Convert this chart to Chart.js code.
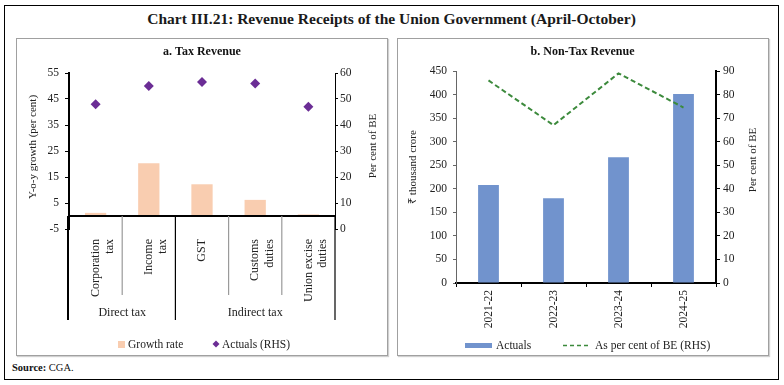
<!DOCTYPE html>
<html>
<head>
<meta charset="utf-8">
<script src="https://cdn.jsdelivr.net/npm/chart.js@4.4.1/dist/chart.umd.min.js"></script>
<style>
  html, body { margin: 0; padding: 0; background: #fff; }
  body { width: 784px; height: 385px; position: relative; overflow: hidden; font-family: "Liberation Serif", serif; color: #111; }
  #frame { position: absolute; left: 4px; top: 5px; width: 775px; height: 375px; border: 1px solid #000; box-sizing: border-box; }
  #mainTitle { position: absolute; left: 4px; width: 775px; top: 10px; text-align: center; font-size: 15.5px; font-weight: bold; color: #1a1a1a; }
  .panel { position: absolute; top: 38px; height: 318px; border: 1.5px solid #a0a0a0; box-sizing: border-box; box-shadow: 1px 1px 1px #d0d0d0; }
  canvas { position: absolute; top: 38px; }
  #source { position: absolute; left: 12px; top: 362px; font-size: 10.5px; }
</style>
</head>
<body>
<div id="frame"></div>
<div id="mainTitle">Chart III.21: Revenue Receipts of the Union Government (April-October)</div>
<div class="panel" style="left:16px;width:372px;"></div>
<div class="panel" style="left:397px;width:372px;"></div>
<canvas id="taxChart" width="372" height="317" style="left:16px;"></canvas>
<canvas id="nonTaxChart" width="371" height="317" style="left:397px;"></canvas>
<div id="source"><b>Source:</b> CGA.</div>

<script>
// a. Tax Revenue
const taxCategories = [["Corporation", "tax"], ["Income", "tax"], ["GST"], ["Customs", "duties"], ["Union excise", "duties"]];
const taxGroups = ["Direct tax", "Indirect tax"];
const taxGroupSize = [2, 3];
const growthRate = [1.2, 20.3, 12.2, 6.2, 0.6];
const actualsPctBE = [48, 55, 56.5, 56, 47];

// b. Non-Tax Revenue
const years = ["2021-22", "2022-23", "2023-24", "2024-25"];
const nonTaxActuals = [208, 180, 267, 401];
const nonTaxPctBE = [86, 67, 89, 74.5];

const FONT = "Liberation Serif";
const txt = "#222";
Chart.defaults.font.family = FONT;
Chart.defaults.color = txt;

function vText(ctx, text, x, y) {
  ctx.save();
  ctx.translate(x, y);
  ctx.rotate(-Math.PI / 2);
  ctx.textAlign = "center";
  ctx.textBaseline = "middle";
  ctx.fillText(text, 0, 0);
  ctx.restore();
}

const taxDecor = {
  id: "taxDecor",
  afterDraw(chart) {
    const { ctx, chartArea: a, scales: { y } } = chart;
    const y0 = y.getPixelForValue(0);
    const n = taxCategories.length;
    const w = (a.right - a.left) / n;
    ctx.save();

    // zero line
    ctx.strokeStyle = "#000";
    ctx.lineWidth = 2;
    ctx.beginPath();
    ctx.moveTo(a.left - 1, y0);
    ctx.lineTo(a.right, y0);
    ctx.stroke();

    // category / group separators below the axis
    const edges = [0];
    taxGroupSize.forEach(k => edges.push(edges[edges.length - 1] + k));
    for (let i = 0; i <= n; i++) {
      const px = a.left + i * w;
      const grp = edges.includes(i);
      ctx.strokeStyle = grp ? "#000" : "#9a9a9a";
      ctx.lineWidth = i === 0 ? 2 : 1.2;
      ctx.beginPath();
      ctx.moveTo(i === 0 ? px - 1 : px, y0);
      ctx.lineTo(i === 0 ? px - 1 : px, a.bottom + (grp ? 91 : 66));
      ctx.stroke();
    }

    // group labels
    ctx.fillStyle = txt;
    ctx.font = "12px " + FONT;
    ctx.textAlign = "center";
    ctx.textBaseline = "middle";
    taxGroups.forEach((g, j) => {
      const mid = a.left + (edges[j] + edges[j + 1]) / 2 * w;
      ctx.fillText(g, mid, a.bottom + 84);
    });

    // axis titles
    ctx.font = "11px " + FONT;
    vText(ctx, "Y-o-y growth (per cent)", 17, 109);
    vText(ctx, "Per cent of BE", 357, 108);

    // legend
    ctx.textAlign = "left";
    ctx.font = "11.5px " + FONT;
    ctx.fillStyle = "#f9cdb0";
    ctx.fillRect(102, 303, 7, 7);
    ctx.fillStyle = txt;
    ctx.fillText("Growth rate", 112, 306.5);
    ctx.fillStyle = "#6b2d95";
    ctx.beginPath();
    ctx.moveTo(200, 302.5); ctx.lineTo(203.5, 306); ctx.lineTo(200, 309.5); ctx.lineTo(196.5, 306);
    ctx.closePath();
    ctx.fill();
    ctx.fillStyle = txt;
    ctx.fillText("Actuals (RHS)", 206, 306.5);
    ctx.restore();
  }
};

new Chart(document.getElementById("taxChart"), {
  type: "bar",
  data: {
    labels: taxCategories,
    datasets: [
      {
        type: "line",
        label: "Actuals (RHS)",
        data: actualsPctBE,
        yAxisID: "y1",
        showLine: false,
        pointStyle: "rectRot",
        pointRadius: 5,
        backgroundColor: "#6b2d95",
        borderColor: "#6b2d95",
        borderWidth: 0,
        order: 1
      },
      {
        label: "Growth rate",
        data: growthRate,
        yAxisID: "y",
        backgroundColor: "#f9cdb0",
        barPercentage: 0.4,
        categoryPercentage: 1,
        order: 2
      }
    ]
  },
  options: {
    responsive: false,
    animation: false,
    layout: { padding: 0 },
    plugins: {
      legend: { display: false },
      tooltip: { enabled: false },
      title: {
        display: true,
        text: "a. Tax Revenue",
        font: { size: 12, weight: "bold" },
        color: "#111",
        padding: { top: 7, bottom: 13.6 }
      }
    },
    scales: {
      x: {
        grid: { display: false },
        border: { display: false },
        ticks: { minRotation: 90, maxRotation: 90, autoSkip: false, padding: 2, font: { size: 12 } },
        afterFit: s => { s.height = 126; }
      },
      y: {
        min: -5,
        max: 55,
        ticks: { stepSize: 10, padding: 6, font: { size: 11.5 } },
        grid: { drawOnChartArea: false, tickLength: 4, color: "#000" },
        border: { color: "#000", width: 2 },
        afterFit: s => { s.width = 53; }
      },
      y1: {
        position: "right",
        min: 0,
        max: 60,
        ticks: { stepSize: 5, padding: 2, font: { size: 11.5 } },
        grid: { drawOnChartArea: false, tickLength: 3, color: "#000" },
        border: { color: "#000", width: 1 },
        afterFit: s => { s.width = 53; }
      }
    }
  },
  plugins: [taxDecor]
});

const nonTaxDecor = {
  id: "nonTaxDecor",
  afterDraw(chart) {
    const { ctx } = chart;
    ctx.save();
    ctx.fillStyle = txt;
    ctx.font = "11px " + FONT;
    vText(ctx, "\u20b9 thousand crore", 16, 129);
    vText(ctx, "Per cent of BE", 356, 122);

    // legend
    ctx.textAlign = "left";
    ctx.textBaseline = "middle";
    ctx.font = "11.5px " + FONT;
    ctx.fillStyle = "#7193cd";
    ctx.fillRect(68, 305, 27, 5);
    ctx.fillStyle = txt;
    ctx.fillText("Actuals", 99, 307.5);
    ctx.strokeStyle = "#3c8a3c";
    ctx.lineWidth = 1.5;
    ctx.setLineDash([4, 3]);
    ctx.beginPath();
    ctx.moveTo(166, 307.5);
    ctx.lineTo(193, 307.5);
    ctx.stroke();
    ctx.setLineDash([]);
    ctx.fillText("As per cent of BE (RHS)", 198, 307.5);
    ctx.restore();
  }
};

new Chart(document.getElementById("nonTaxChart"), {
  type: "bar",
  data: {
    labels: years,
    datasets: [
      {
        type: "line",
        label: "As per cent of BE (RHS)",
        data: nonTaxPctBE,
        yAxisID: "y1",
        borderColor: "#3c8a3c",
        borderWidth: 2,
        borderDash: [5, 3],
        pointRadius: 0,
        fill: false,
        tension: 0,
        order: 1
      },
      {
        label: "Actuals",
        data: nonTaxActuals,
        yAxisID: "y",
        backgroundColor: "#7193cd",
        barPercentage: 0.32,
        categoryPercentage: 1,
        order: 2
      }
    ]
  },
  options: {
    responsive: false,
    animation: false,
    layout: { padding: 0 },
    plugins: {
      legend: { display: false },
      tooltip: { enabled: false },
      title: {
        display: true,
        text: "b. Non-Tax Revenue",
        font: { size: 12, weight: "bold" },
        color: "#111",
        padding: { top: 7, bottom: 11.6 }
      }
    },
    scales: {
      x: {
        grid: { drawOnChartArea: false, tickLength: 4, color: "#000", offset: true },
        border: { color: "#000", width: 2 },
        ticks: { minRotation: 90, maxRotation: 90, autoSkip: false, padding: 3, font: { size: 11.5 } },
        afterFit: s => { s.height = 72; }
      },
      y: {
        min: 0,
        max: 450,
        ticks: { stepSize: 50, padding: 6, font: { size: 11.5 } },
        grid: { drawOnChartArea: false, tickLength: 3, color: "#666" },
        border: { color: "#666", width: 1 },
        afterFit: s => { s.width = 59; }
      },
      y1: {
        position: "right",
        min: 0,
        max: 90,
        ticks: { stepSize: 10, padding: 3, font: { size: 11.5 } },
        grid: { drawOnChartArea: false, tickLength: 4, color: "#000" },
        border: { color: "#000", width: 2 },
        afterFit: s => { s.width = 52; }
      }
    }
  },
  plugins: [nonTaxDecor]
});
</script>
</body>
</html>
